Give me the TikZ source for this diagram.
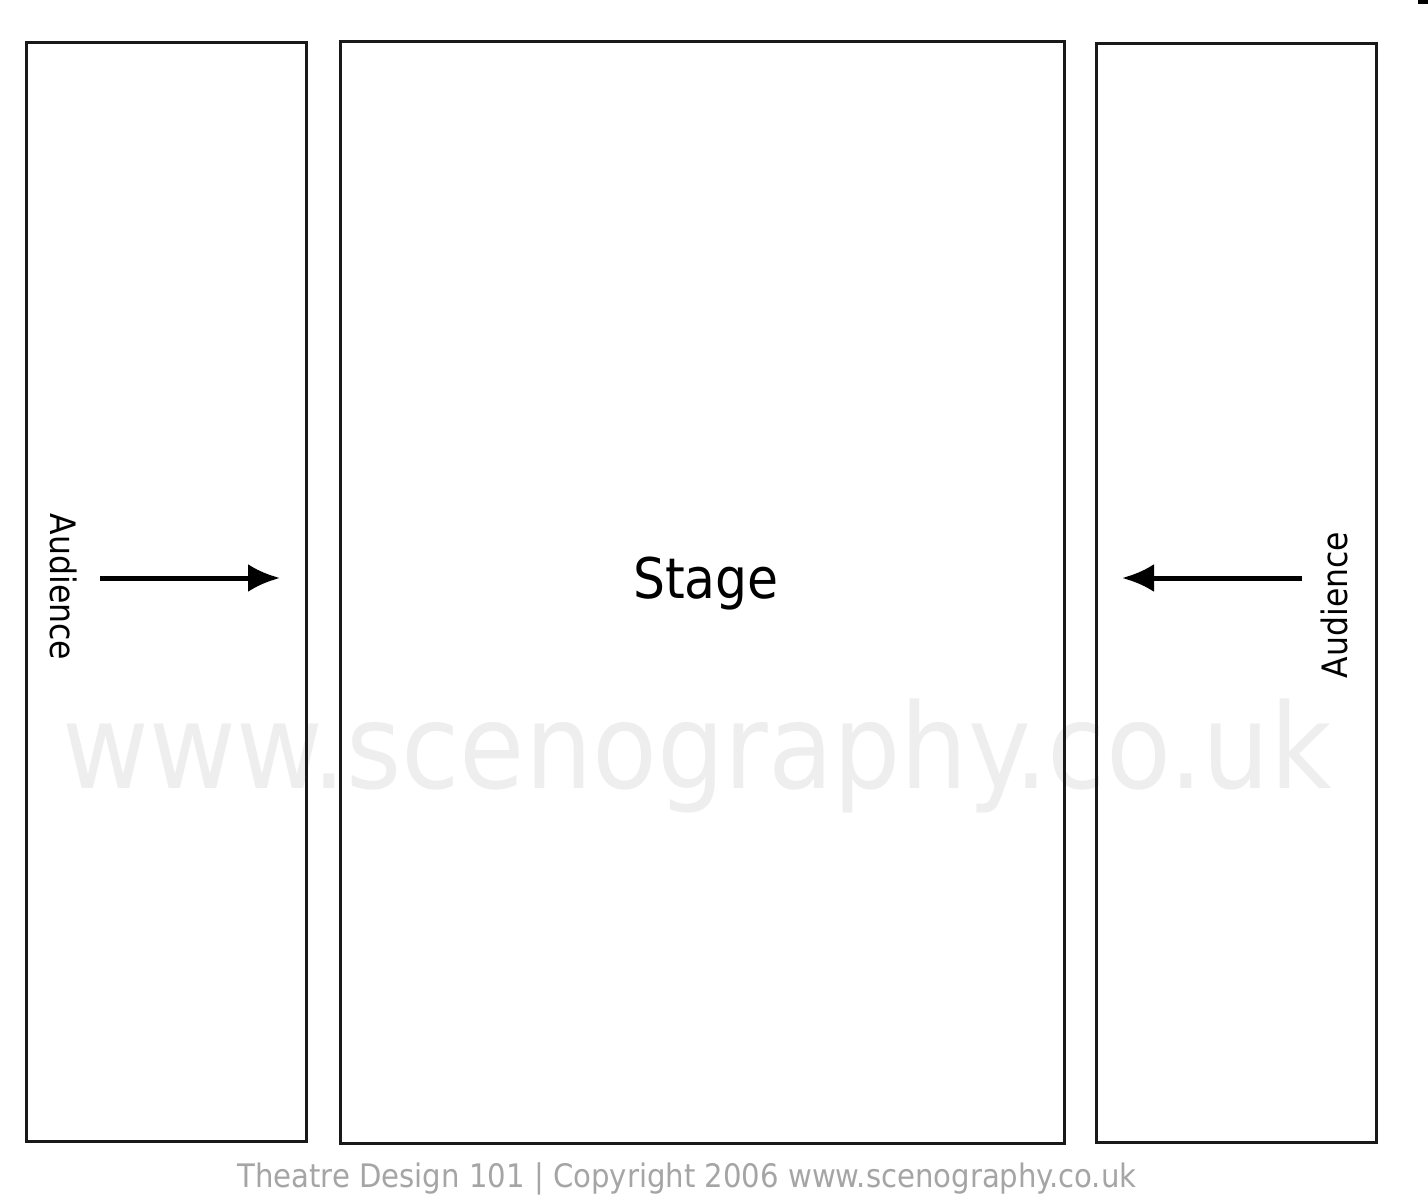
\documentclass[tikz,border=0pt]{standalone}
\usepackage{fontspec}
\IfFontExistsTF{DejaVu Sans Condensed}
  {\setmainfont{DejaVu Sans Condensed}}
  {\setmainfont{DejaVu Sans}}
\usetikzlibrary{arrows.meta,positioning}
\definecolor{wmgray}{RGB}{238,238,238}
\definecolor{capgray}{RGB}{165,165,165}
\tikzset{
areabox/.style={
  draw=black!90,
  line width=3pt,
  inner sep=0pt,
  minimum width=#1
  },
audtext/.style={
  font=\fontsize{35}{40}\selectfont,
  inner sep=0pt
  }
}

\begin{document}
\begin{tikzpicture}[x=1pt, y=-1pt, >={Latex[length=32pt,width=28pt]}]
\useasboundingbox (0,0) rectangle (1428,1200);

% watermark behind everything
\node[text=wmgray, anchor=base, inner sep=0pt,
  font=\fontsize{118}{122}\selectfont]
  (wmark) at (697,788) {www.scenography.co.uk};

% the three areas
\node[areabox=280pt, minimum height=1099pt] (audl) at (166,591.5) {};
\node[areabox=724pt, minimum height=1102pt] (stage) at (702,592) {};
\node[areabox=280pt, minimum height=1099pt] (audr) at (1236,592.5) {};

\node[anchor=base, inner sep=0pt, font=\fontsize{56}{60}\selectfont]
  (stagelbl) at (706,598) {Stage};

\node[audtext, rotate=-90] (audllbl) at (64,587) {Audience};
\node[audtext, rotate=90] (audrlbl) at (1334,605) {Audience};

\coordinate (la) at (100,578);
\coordinate (lb) at (280,578);
\coordinate (ra) at (1302,578);
\coordinate (rb) at (1122,578);
\draw[->, line width=5pt] (la) -- (lb);
\draw[->, line width=5pt] (ra) -- (rb);

\node[text=capgray, anchor=base, inner sep=0pt,
  font=\fontsize{32.4}{36}\selectfont]
  (caption) at (687,1187) {Theatre Design 101 | Copyright 2006 www.scenography.co.uk};

\fill (1418,0) rectangle (1428,4);
\end{tikzpicture}
\end{document}
